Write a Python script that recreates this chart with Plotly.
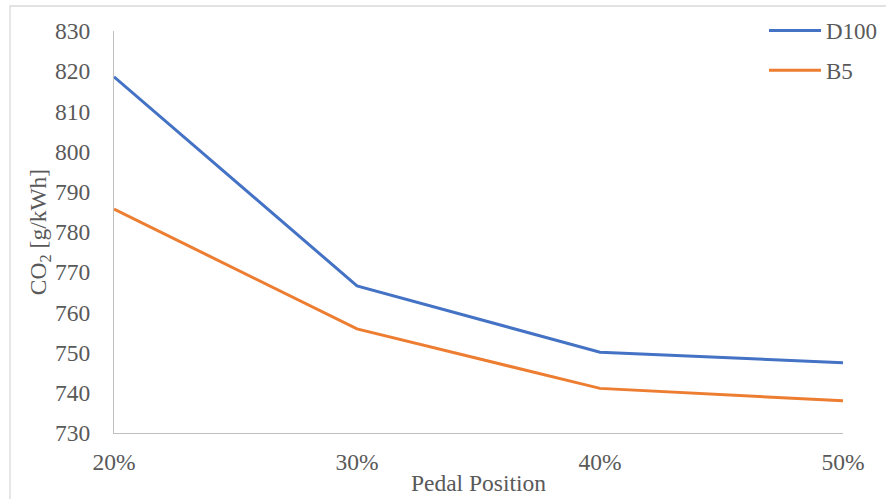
import plotly.graph_objects as go

categories = ["20%", "30%", "40%", "50%"]
d100 = [818.6, 766.6, 750.1, 747.5]
b5 = [785.7, 755.9, 741.1, 738.0]
y_ticks = [730, 740, 750, 760, 770, 780, 790, 800, 810, 820, 830]

W, H = 886, 499
L, R, T, B = 114, 43, 31, 66
pw, ph = W - L - R, H - T - B

FAM = "Liberation Serif"
grey = "#595959"

def f(size):
    return dict(family=FAM, size=size, color=grey)

xs = list(range(len(categories)))
fig = go.Figure()
fig.add_trace(go.Scatter(x=xs, y=d100, mode="lines", name="D100",
                         line=dict(color="#4472C4", width=3), legendgroup="a"))
fig.add_trace(go.Scatter(x=xs, y=b5, mode="lines", name="B5",
                         line=dict(color="#ED7D31", width=3), legendgroup="b"))

def px_x(p):
    return (p - L) / pw

def px_y(p):
    return (H - B - p) / ph

fig.add_shape(type="rect", xref="paper", yref="paper",
              x0=px_x(10), x1=px_x(893), y0=px_y(6), y1=px_y(506),
              line=dict(color="#d9d9d9", width=1.3), fillcolor="rgba(0,0,0,0)", layer="below")

fig.update_layout(
    width=W, height=H,
    margin=dict(l=L, r=R, t=T, b=B, autoexpand=False),
    paper_bgcolor="white", plot_bgcolor="white",
    font=f(23.5),
    showlegend=True,
    legend=dict(x=px_x(764), y=px_y(9), xanchor="left", yanchor="top",
                font=f(23), itemwidth=52,
                tracegroupgap=7, bgcolor="rgba(0,0,0,0)"),
    xaxis=dict(tickmode="array", tickvals=xs, ticktext=categories,
               range=[0, 3], showgrid=False, zeroline=False,
               showline=True, linecolor="#bfbfbf", linewidth=1.3,
               ticks="outside", ticklen=8, tickcolor="rgba(0,0,0,0)",
               tickfont=f(23.5),
               title=dict(text="Pedal Position", font=f(23.5), standoff=0)),
    yaxis=dict(tickmode="array", tickvals=y_ticks, range=[730, 830],
               showgrid=False, zeroline=False,
               showline=True, linecolor="#bfbfbf", linewidth=1.3,
               ticks="outside", ticklen=18, tickcolor="rgba(0,0,0,0)",
               tickfont=f(23.5),
               title=dict(text="CO<sub>2</sub> [g/kWh]", font=f(23.5), standoff=1)),
)

fig.write_html("out.html",
               config={"displayModeBar": False},
               post_script="document.body.style.margin='0';document.body.style.overflow='hidden';")
